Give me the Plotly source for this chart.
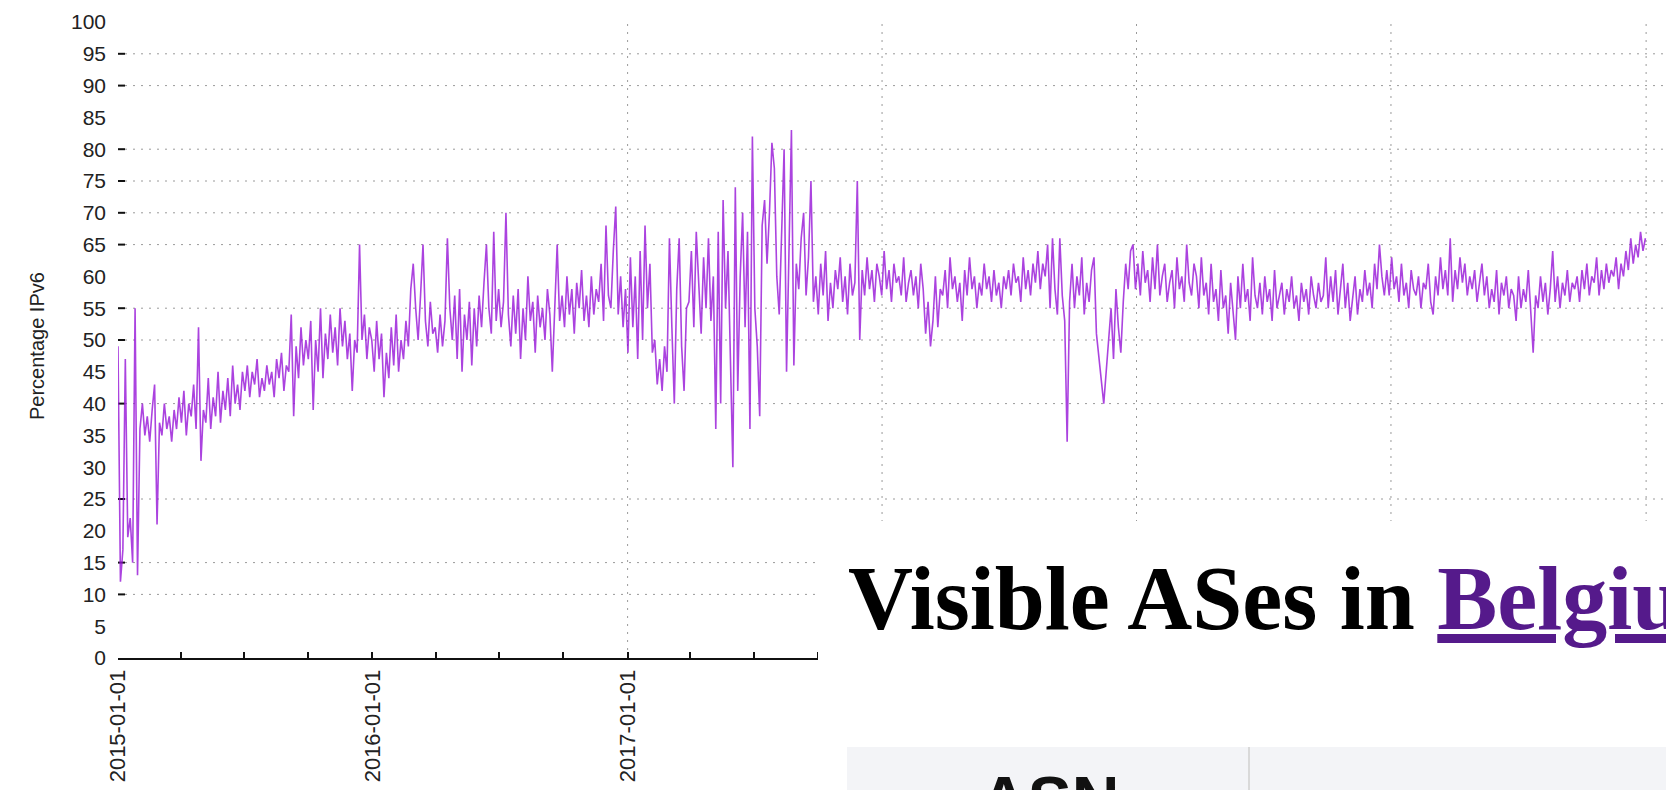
import pandas as pd
import plotly.graph_objects as go

# ---------------- data (half-weekly samples) ----------------
pct_2015 = [49,12,17,47,19,22,15,55,13,36,40,35,38,34,39,43,21,37,35,40,36,38,34,39,36,41,
            37,42,35,40,38,43,36,52,31,39,37,44,36,41,38,45,37,42,39,44,38,46,40,43,39,45,
            42,46,41,45,43,47,41,44,42,46,43,45,41,47,44,48,42,46,45,54,38,49,44,52,46,50,
            47,53,39,50,45,55,44,51,47,54,48,52,46,55,49,53,47,51,42,50,48,65,50,54,47,52]
pct_2016 = [50,45,53,47,51,41,48,44,52,46,54,45,50,47,53,49,58,62,55,50,57,65,53,49,56,51,
            52,48,54,49,53,66,55,50,57,47,58,45,54,50,56,46,55,49,57,52,59,65,55,51,67,53,
            58,52,56,70,54,49,57,51,58,47,55,50,60,53,56,48,57,52,55,50,58,54,45,56,65,53,
            57,52,60,54,58,51,59,55,61,53,57,52,60,54,58,56,62,53,68,57,55,64,71,54,60,52]
pct_2017 = [58,48,63,52,60,47,64,50,68,55,62,48,50,43,47,42,49,45,66,52,40,58,66,49,42,55,
            56,64,52,67,58,51,63,55,66,53,60,36,67,40,72,55,64,45,30,74,42,60,70,52,67,36,
            82,55,49,38,68,72,62,70,81,77,60,54,68,80,45,64,83,46,62,58,66,70,57,63,75,56,
            60,54,62,57,64,53,59,55,61,58,63,56,60,54,62,57,59,75,50,61,57,63,58,61,56,62]
pct_2018 = [60,57,64,58,61,56,62,59,60,57,63,56,59,61,57,60,55,62,58,51,56,49,53,60,52,58,
            57,61,55,63,58,60,56,59,53,61,57,63,58,60,55,59,57,62,58,60,56,61,57,59,55,60,
            58,61,57,62,59,60,56,63,58,61,57,62,59,64,58,62,60,65,55,66,58,54,66,57,53,34,
            56,62,55,60,57,63,54,59,56,61,63,51,47,44,40,45,50,55,47,58,52,48,56,62,58,64]
pct_2019 = [65,58,62,57,64,59,61,56,63,58,65,57,60,62,56,59,61,55,63,58,60,56,65,59,57,62,
            60,55,63,57,59,54,62,56,58,53,61,55,57,51,59,54,50,60,55,62,56,58,53,63,57,55,
            59,54,60,56,58,53,61,55,57,59,54,58,56,60,55,57,53,59,56,58,54,60,57,55,59,56,
            57,63,55,60,56,61,54,58,62,55,59,53,57,60,54,58,56,61,57,59,55,62,58,65,60,57]
pct_2020 = [61,57,63,58,60,56,62,57,59,55,61,58,57,60,55,59,58,62,56,54,60,57,63,58,61,57,
            66,56,61,58,63,59,62,57,60,58,61,56,59,62,57,60,55,58,56,61,54,59,57,60,55,58,
            57,53,60,55,58,56,61,54,48,57,55,60,56,59,54,58,64,56,60,55,59,57,61,56,59,58,
            60,56,61,58,62,57,60,59,63,57,61,58,62,59,61,60,63,58,62,60,64,61,66,62,65,63]
pct_2021 = [67,64,66]

ipv6_pct = pct_2015 + pct_2016 + pct_2017 + pct_2018 + pct_2019 + pct_2020 + pct_2021
dates = pd.date_range("2015-01-01", periods=len(ipv6_pct), freq="84h")

y_tick_values = list(range(0, 101, 5))
y_grid_levels = [10, 15, 25, 40, 50, 55, 65, 70, 75, 80, 90, 95]
year_labels = ["2015-01-01", "2016-01-01", "2017-01-01", "2018-01-01",
               "2019-01-01", "2020-01-01", "2021-01-01"]
v_grid_dates = ["2017-01-01", "2018-01-01", "2019-01-01", "2020-01-01", "2021-01-01"]
x_range = ["2015-01-01", "2021-02-10"]

quarter_ticks = pd.date_range("2015-01-01", "2021-01-01", freq="QS")
quarter_text = [d.strftime("%Y-%m-%d") if d.strftime("%Y-%m-%d") in year_labels else ""
                for d in quarter_ticks]

# ---------------- layout geometry (page has an 8px body margin) ----------------
OFF = 8
W, H = 1666, 782
L, R, T, B = 110, 0, 14, 132
PW, PH = W - L - R, H - T - B


def px(x):  # page pixel -> paper x
    return (x - OFF - L) / PW


def py(y):  # page pixel -> paper y
    return (T + PH - (y - OFF)) / PH


fig = go.Figure()
fig.add_trace(go.Scatter(
    x=dates, y=ipv6_pct, mode="lines",
    line=dict(color="rgba(150,20,215,0.8)", width=1.6),
    showlegend=False, hoverinfo="skip",
))

grid_style = dict(color="#9a9a9a", width=1, dash="2px,6px")
shapes = []
for lv in y_grid_levels:
    shapes.append(dict(type="line", xref="paper", yref="y", x0=px(125), x1=1.02,
                       y0=lv, y1=lv, line=grid_style, layer="below"))
    shapes.append(dict(type="line", xref="paper", yref="y", x0=0, x1=px(125),
                       y0=lv, y1=lv, line=dict(color="#111", width=2), layer="below"))
for d in v_grid_dates:
    shapes.append(dict(type="line", xref="x", yref="paper", x0=d, x1=d,
                       y0=0, y1=1, line=grid_style, layer="below"))

# page content overlapping the chart (white section, heading, table header)
shapes.append(dict(type="rect", xref="paper", yref="paper", x0=px(818), x1=px(1700),
                   y0=py(810), y1=py(521), fillcolor="white", line=dict(width=0), layer="above"))
shapes.append(dict(type="rect", xref="paper", yref="paper", x0=px(847), x1=px(1700),
                   y0=py(810), y1=py(747), fillcolor="#f3f4f7", line=dict(width=0), layer="above"))
shapes.append(dict(type="line", xref="paper", yref="paper", x0=px(1249), x1=px(1249),
                   y0=py(810), y1=py(747), line=dict(color="#d9d9d9", width=2), layer="above"))

annotations = [
    dict(text="Percentage IPv6", textangle=-90, xref="paper", yref="paper",
         x=px(37), y=py(346), xanchor="center", yanchor="middle", showarrow=False,
         font=dict(family="Liberation Sans, Arial", size=20, color="#222")),
    dict(text="Visible ASes in <span style='color:#551A8B'><u>Belgium</u></span>",
         xref="paper", yref="paper", x=px(846), y=py(598), xanchor="left", yanchor="middle",
         showarrow=False,
         font=dict(family="Liberation Serif, Times New Roman", size=90, color="#000", weight="bold")),
    dict(text="<b>ASN</b>", xref="paper", yref="paper", x=px(1049), y=py(761),
         xanchor="center", yanchor="top", showarrow=False,
         font=dict(family="Liberation Sans, Arial", size=66, color="#111")),
]

fig.update_layout(
    width=W, height=H, autosize=False,
    margin=dict(l=L, r=R, t=T, b=B, pad=0),
    paper_bgcolor="white", plot_bgcolor="white",
    shapes=shapes, annotations=annotations,
    xaxis=dict(
        type="date", range=x_range, showgrid=False, zeroline=False,
        showline=True, linecolor="#111", linewidth=2,
        tickmode="array", tickvals=list(quarter_ticks), ticktext=quarter_text,
        ticks="inside", ticklen=6, tickwidth=2, tickcolor="#111",
        tickangle=-90, ticklabelstandoff=1,
        tickfont=dict(family="Liberation Sans, Arial", size=22, color="#222"),
    ),
    yaxis=dict(
        range=[0, 100], showgrid=False, zeroline=False, showline=False,
        tickmode="array", tickvals=y_tick_values, ticks="",
        ticklabelstandoff=11,
        tickfont=dict(family="Liberation Sans, Arial", size=21, color="#222"),
    ),
)

fig.write_html("out.html")
